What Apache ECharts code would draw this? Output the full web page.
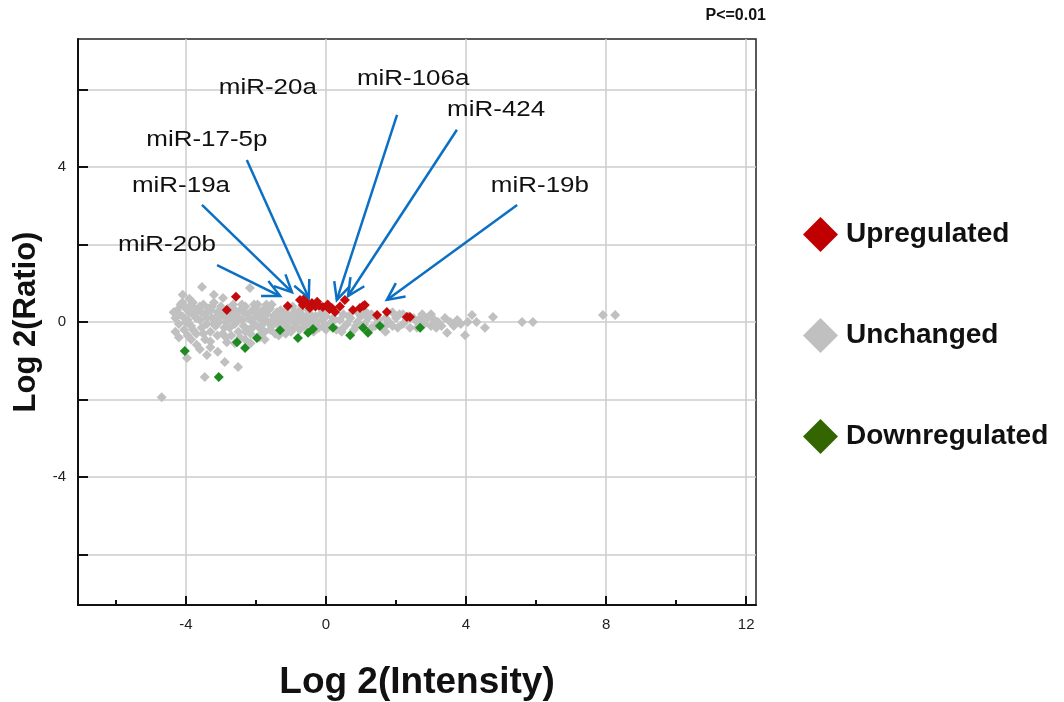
<!DOCTYPE html>
<html>
<head>
<meta charset="utf-8">
<script src="https://cdn.jsdelivr.net/npm/echarts@6/dist/echarts.min.js"></script>
<style>html,body{margin:0;padding:0;background:#fff;}#c{width:1064px;height:702px;}</style>
</head>
<body>
<div id="c"></div>
<script>
// ---- tick labels ----
const xMajorTicks = [-4, 0, 4, 8, 12];
const xMinorTicks = [-6, -2, 2, 6, 10];
const yTicks = [-6, -4, -2, 0, 2, 4, 6];
const yLabels = [-4, 0, 4];

// ---- series names ----
const seriesNames = ['Upregulated', 'Unchanged', 'Downregulated'];

// ---- data: [log2 intensity, log2 ratio] ----
const upregulated = [
  [-2.57,0.65],[-2.83,0.31],[-1.09,0.41],[-0.74,0.57],[-0.66,0.44],[-0.46,0.36],[-0.4,0.49],
  [-0.2,0.42],[-0.09,0.39],[0.17,0.36],[0.26,0.26],[0.54,0.57],[0.77,0.31],[0.97,0.36],
  [1.06,0.41],[1.11,0.44],[1.46,0.18],[1.74,0.26],[2.31,0.13],[2.4,0.13],[-0.55,0.5],
  [-0.3,0.4],[0.05,0.45],[0.4,0.4],[-0.62,0.6],[-0.25,0.52],[0.1,0.33]
];
const downregulated = [
  [-4.03,-0.75],[-2.54,-0.52],[-2.31,-0.67],[-1.97,-0.41],[-3.06,-1.42],[-1.31,-0.21],
  [-0.8,-0.41],[-0.51,-0.28],[-0.37,-0.18],[0.2,-0.15],[0.69,-0.34],[1.06,-0.15],
  [1.2,-0.28],[1.54,-0.1],[2.69,-0.15]
];
const unchanged = [
  [-4.09,0.70],[-3.54,0.90],[-2.94,0.62],[-2.17,0.88],[-3.9,0.6],[-3.2,0.7],[-1.74,0.36],
  [-4.3,0.10],[-4.25,0.30],[-4.2,-0.05],[-4.15,0.45],[-4.1,0.15],[-4.05,-0.20],[-4.0,0.35],
  [-3.95,0.05],[-3.9,0.25],[-3.85,-0.10],[-3.8,0.50],[-3.75,0.15],[-3.7,-0.30],[-3.65,0.30],
  [-3.6,0.05],[-3.55,-0.15],[-3.5,0.45],[-3.45,0.20],[-3.4,-0.05],[-3.35,0.35],[-3.3,-0.25],
  [-3.25,0.10],[-3.2,0.50],[-3.15,-0.10],[-3.1,0.25],[-3.05,0.00],[-3.0,0.40],[-2.95,-0.30],
  [-2.9,0.15],[-2.85,0.00],[-2.8,0.35],[-2.75,-0.15],[-2.7,0.20],[-2.65,0.45],[-2.6,-0.05],
  [-2.55,0.15],[-2.5,-0.25],[-2.45,0.30],[-2.4,0.05],[-2.35,-0.10],[-2.3,0.40],[-2.25,0.20],
  [-2.2,-0.20],[-2.15,0.05],[-2.1,0.30],[-2.05,-0.05],[-2.0,0.15],[-1.95,0.45],[-1.9,-0.15],
  [-1.85,0.25],[-1.8,0.05],[-1.75,-0.25],[-1.7,0.20],[-1.65,0.00],[-1.6,0.35],[-1.55,-0.10],
  [-1.5,0.15],[-1.45,-0.30],[-1.4,0.25],[-1.35,0.05],[-1.3,-0.15],[-1.25,0.20],[-1.2,0.00],
  [-1.15,0.30],[-1.1,-0.10],[-1.05,0.15],[-1.0,-0.25],[-0.95,0.05],[-0.9,0.25],[-0.85,-0.05],
  [-0.8,0.10],[-0.75,-0.20],[-0.7,0.20],[-0.65,0.00],[-0.6,-0.10],[-0.55,0.15],[-0.5,0.30],
  [-0.45,-0.05],[-0.4,0.10],[-0.35,-0.25],[-0.3,0.15],[-0.25,0.00],[-0.2,-0.15],[-0.15,0.20],
  [-0.1,0.05],[-0.05,-0.10],[0.0,0.15],
  [-4.2,0.20],[-4.0,0.00],[-3.9,0.40],[-3.8,-0.20],[-3.7,0.10],[-3.6,0.40],[-3.5,-0.30],
  [-3.4,0.10],[-3.3,0.30],[-3.2,-0.05],[-3.1,-0.35],[-3.0,0.15],[-2.9,-0.15],[-2.8,0.10],
  [-2.7,-0.35],[-2.6,0.30],[-2.5,0.05],[-2.4,0.45],[-2.3,-0.25],[-2.2,0.10],[-2.1,-0.15],
  [-2.0,0.35],[-1.9,0.10],[-1.8,-0.05],[-1.7,0.45],[-1.6,-0.20],[-1.5,0.05],[-1.4,0.00],
  [-1.3,0.30],[-1.2,-0.20],[-1.1,0.10],[-1.0,0.05],[-0.9,-0.15],
  [-4.1,0.50],[-3.95,-0.35],[-3.75,0.35],[-3.55,0.25],[-3.45,-0.45],[-3.25,0.40],[-3.15,0.10],
  [-2.95,0.30],[-2.85,-0.40],[-2.65,0.05],[-2.45,-0.40],[-2.35,0.25],[-2.15,-0.30],[-2.05,0.45],
  [-1.85,-0.30],[-1.65,0.30],[-1.55,0.45],[-1.35,-0.35],[-1.15,-0.30],[-0.95,0.40],[-0.75,0.30],
  [-0.6,0.05],[-0.45,0.20],[-0.3,-0.05],[-0.1,0.25],[-3.85,-0.45],[-3.3,-0.65],[-2.6,-0.55],
  [-2.15,-0.55],[-1.75,-0.45],[-4.3,-0.25],[-4.35,0.25],
  [-4.2,-0.40],[-3.97,-0.93],[-3.69,-0.59],[-3.6,-0.70],[-3.46,-1.42],[-3.4,-0.85],
  [-3.09,-0.77],[-2.89,-1.03],[-2.83,-0.52],[-2.51,-1.16],[-4.69,-1.94],[-3.3,-0.5],
  [-2.3,-0.45],[-1.9,-0.4],
  [0.1,-0.05],[0.2,0.10],[0.3,-0.20],[0.4,0.05],[0.5,0.20],[0.6,-0.05],[0.7,0.10],
  [0.8,-0.20],[0.9,0.00],[1.0,0.15],[1.1,-0.05],[1.2,0.10],[1.3,0.20],[1.4,-0.10],
  [1.5,0.05],[1.6,-0.15],[1.7,0.10],[1.8,0.00],[1.9,-0.10],[2.0,0.10],[2.1,0.20],
  [2.2,-0.05],[2.3,0.05],[2.4,-0.15],[2.5,0.10],[2.6,0.00],[2.7,0.10],[2.8,-0.05],
  [2.9,0.10],[3.0,-0.10],[3.1,0.05],[3.2,0.00],[3.3,-0.10],[3.4,0.10],[3.46,-0.28],
  [3.55,0.00],[3.65,-0.10],[3.75,0.05],[3.85,-0.05],[3.97,-0.34],[4.05,0.00],[4.17,0.18],
  [4.3,0.00],[4.54,-0.15],[4.77,0.13],[5.6,0.00],[5.91,0.00],[7.91,0.18],[8.26,0.18],
  [0.5,-0.15],[0.9,0.25],[1.3,-0.15],[1.9,0.25],[2.2,0.20],[2.6,-0.15],[3.0,0.20],
  [0.25,0.05],[0.65,0.15],[0.85,-0.10],[1.15,0.25],[1.45,0.10],[1.75,-0.05],[2.05,-0.15],
  [2.35,0.15],[2.75,0.20],[3.15,-0.15],[0.0,-0.20],[0.45,-0.25],[1.7,-0.25]
];

// ---- annotations: label, label position, arrow start, arrow end (data units) ----
const annoNames = ['miR-20a','miR-106a','miR-424','miR-17-5p','miR-19a','miR-20b','miR-19b'];
const annoLabelPos = [[-1.66,6.04],[2.49,6.27],[4.86,5.47],[-3.4,4.70],[-4.14,3.51],[-4.54,1.99],[6.11,3.51]];
const annoArrowFrom = [null,[2.03,5.34],[3.74,4.96],[-2.26,4.18],[-3.54,3.02],[-3.11,1.47],[5.46,3.02]];
const annoArrowTo = [null,[0.31,0.57],[0.63,0.67],[-0.49,0.62],[-0.97,0.77],[-1.31,0.67],[1.74,0.57]];

const annoData = annoNames.map((n, i) => {
  const f = annoArrowFrom[i], t = annoArrowTo[i];
  return { name: n, value: [annoLabelPos[i][0], annoLabelPos[i][1],
    f ? f[0] : NaN, f ? f[1] : NaN, t ? t[0] : NaN, t ? t[1] : NaN] };
});

const chart = echarts.init(document.getElementById('c'), null, { renderer: 'canvas' });
const FONT = '"Liberation Sans", Arial, sans-serif';
const ARROW = '#0b6fc4';

const option = {
  backgroundColor: '#ffffff',
  animation: false,
  grid: { left: 78, right: 308, top: 39, bottom: 97, outerBoundsMode: 'none', containLabel: false,
          show: true, borderColor: '#222', borderWidth: 1.5, backgroundColor: 'transparent' },
  xAxis: [
    {
      type: 'value', min: -7.08, max: 12.28, position: 'bottom',
      name: 'Log 2(Intensity)', nameLocation: 'middle', nameGap: 59,
      nameTextStyle: { fontFamily: FONT, fontWeight: 'bold', fontSize: 37, color: '#111' },
      axisLine: { show: true, onZero: false, lineStyle: { color: '#111', width: 2 } },
      axisTick: { show: true, inside: true, length: 9, customValues: xMajorTicks, lineStyle: { color: '#111', width: 2 } },
      axisLabel: { show: true, customValues: xMajorTicks, margin: 12, fontFamily: FONT, fontSize: 15, color: '#222' },
      splitLine: { show: true, lineStyle: { color: '#cccccc', width: 1.5 } }
    },
    {
      type: 'value', min: -7.08, max: 12.28, position: 'bottom',
      axisLine: { show: false, onZero: false },
      axisTick: { show: true, inside: true, length: 5, customValues: xMinorTicks, lineStyle: { color: '#111', width: 2 } },
      axisLabel: { show: false },
      splitLine: { show: false }
    }
  ],
  yAxis: {
    type: 'value', min: -7.3, max: 7.3,
    name: 'Log 2(Ratio)', nameLocation: 'middle', nameGap: 30, nameRotate: 90,
    nameTextStyle: { fontFamily: FONT, fontWeight: 'bold', fontSize: 31, color: '#111' },
    axisLine: { show: true, onZero: false, lineStyle: { color: '#111', width: 2 } },
    axisTick: { show: true, inside: true, length: 10, customValues: yTicks, lineStyle: { color: '#111', width: 2 } },
    axisLabel: { show: true, customValues: yLabels, margin: 12, fontFamily: FONT, fontSize: 15, color: '#222' },
    splitLine: { show: true, lineStyle: { color: '#cccccc', width: 1.5 } }
  },
  legend: {
    orient: 'vertical', left: 798, top: 212, itemGap: 66, itemWidth: 35, itemHeight: 35,
    icon: 'diamond', selectedMode: false,
    textStyle: { fontFamily: FONT, fontWeight: 'bold', fontSize: 28, color: '#111', padding: [0, 0, 0, 3] },
    data: [
      { name: 'Upregulated', itemStyle: { color: '#c00000' } },
      { name: 'Unchanged', itemStyle: { color: '#c0c0c0' } },
      { name: 'Downregulated', itemStyle: { color: '#336600' } }
    ]
  },
  graphic: [
    { type: 'text', right: 298, top: 8, style: { text: 'P<=0.01', font: 'bold 16px ' + FONT, fill: '#111' } }
  ],
  series: [
    {
      name: seriesNames[1], type: 'scatter', symbol: 'diamond', symbolSize: 10,
      data: unchanged, itemStyle: { color: '#c0c0c0', opacity: 1 }, z: 2
    },
    {
      name: seriesNames[0], type: 'scatter', symbol: 'diamond', symbolSize: 10,
      data: upregulated, itemStyle: { color: '#c40a0a', opacity: 1 }, z: 3
    },
    {
      name: seriesNames[2], type: 'scatter', symbol: 'diamond', symbolSize: 10,
      data: downregulated, itemStyle: { color: '#1f8a1f', opacity: 1 }, z: 3
    },
    {
      type: 'custom', name: 'annotations', clip: false, z: 5, silent: true,
      data: annoData,
      renderItem: function (params, api) {
        const children = [];
        const lp = api.coord([api.value(0), api.value(1)]);
        children.push({
          type: 'text', x: lp[0], y: lp[1], scaleX: 1.18, scaleY: 1,
          style: { text: annoNames[params.dataIndex], x: 0, y: 0, align: 'center', verticalAlign: 'middle',
                   font: '22px ' + FONT, fill: '#111' }
        });
        const x1 = api.value(2), y1 = api.value(3), x2 = api.value(4), y2 = api.value(5);
        if (!isNaN(x1)) {
          const p1 = api.coord([x1, y1]);
          const p2 = api.coord([x2, y2]);
          const a = Math.atan2(p2[1] - p1[1], p2[0] - p1[0]);
          const L = 19, ph = 0.45;
          const h1 = [p2[0] - L * Math.cos(a - ph), p2[1] - L * Math.sin(a - ph)];
          const h2 = [p2[0] - L * Math.cos(a + ph), p2[1] - L * Math.sin(a + ph)];
          children.push({ type: 'line', shape: { x1: p1[0], y1: p1[1], x2: p2[0], y2: p2[1] },
                          style: { stroke: ARROW, lineWidth: 2.5 } });
          children.push({ type: 'polyline', shape: { points: [h1, p2, h2] },
                          style: { stroke: ARROW, lineWidth: 2.5, fill: null } });
        }
        return { type: 'group', children: children };
      }
    }
  ]
};
chart.setOption(option);
</script>
</body>
</html>
